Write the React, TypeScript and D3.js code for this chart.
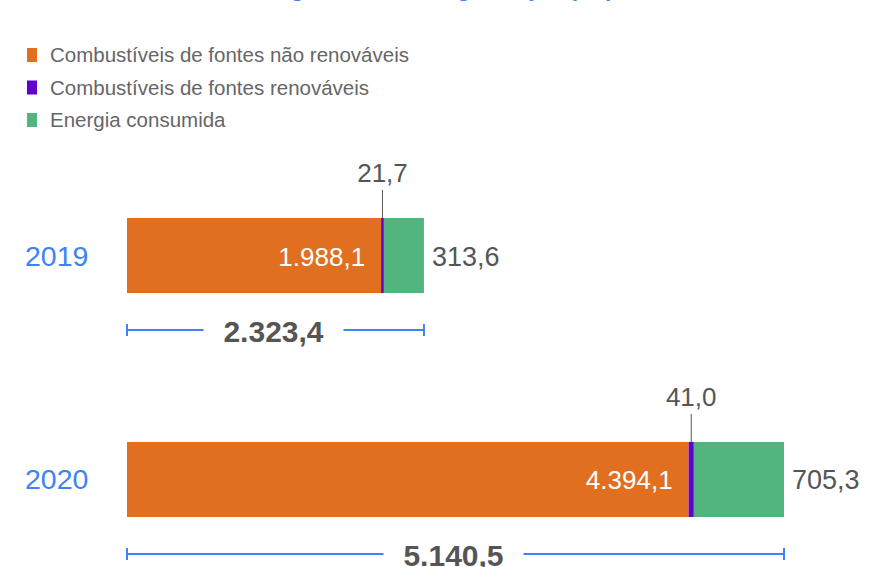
import * as d3 from 'd3';

const years = ['2019', '2020'];
const naoRenovaveis = [1988.1, 4394.1];
const renovaveis = [21.7, 41.0];
const energiaConsumida = [313.6, 705.3];
const totals = [2323.4, 5140.5];
const seriesNames = [
  'Combustíveis de fontes não renováveis',
  'Combustíveis de fontes renováveis',
  'Energia consumida',
];

const W = 869;
const H = 567;
const colors = ['#e0701f', '#6200cc', '#52b580'];
const blue = '#3d83f5';
const grey = '#555';
const font = '"Liberation Sans", Arial, sans-serif';

const fmt = (v: number) => {
  const s = d3.format(',.1f')(v);
  return s.replace(/,/g, '#').replace('.', ',').replace(/#/g, '.');
};

export default function App() {
  const x = d3.scaleLinear().domain([0, 5140.5]).range([127, 784]);
  const y = d3.scaleBand().domain(years).range([218, 517]).paddingInner(0.665).paddingOuter(0);
  const bh = y.bandwidth();

  return (
    <svg width={W} height={H} style={{ position: 'absolute', left: 0, top: 0, fontFamily: font }}>
      <text x={105} y={-4} fill={blue} fontSize={22} fontWeight="bold">
        Consumo de energia dentro da organização (GJ)
      </text>
      {seriesNames.map((n, i) => (
        <g key={n} transform={`translate(27,${48 + i * 32.5})`}>
          <rect width={10} height={14} fill={colors[i]} />
          <text x={23} y={14} fontSize={20.5} fill="#666">{n}</text>
        </g>
      ))}
      {years.map((yr, i) => {
        const y0 = y(yr) as number;
        const a = naoRenovaveis[i];
        const b = renovaveis[i];
        const c = energiaConsumida[i];
        const x0 = x(0), x1 = x(a), x2 = x(a + b), x3 = x(a + b + c);
        const cy = y0 + bh / 2;
        const my = (x1 + x2) / 2;
        const by = y0 + bh + 37;
        const mid = (x0 + x3) / 2 - 2;
        const half = 70;
        return (
          <g key={yr}>
            <text x={25} y={cy + 10} fontSize={28.5} fill={blue}>{yr}</text>
            <rect x={x0} y={y0} width={x1 - x0} height={bh} fill={colors[0]} />
            <rect x={x1} y={y0} width={x2 - x1} height={bh} fill={colors[1]} />
            <rect x={x2} y={y0} width={x3 - x2} height={bh} fill={colors[2]} />
            <text x={x1 - 16} y={cy + 10} fontSize={26} fill="#fff" textAnchor="end">{fmt(a)}</text>
            <text x={x3 + 8} y={cy + 10} fontSize={27} fill={grey}>{fmt(c)}</text>
            <line x1={my} x2={my} y1={y0 - 28} y2={y0} stroke={grey} strokeWidth={1} />
            <text x={my} y={y0 - 36} fontSize={26} fill={grey} textAnchor="middle">{fmt(b)}</text>
            <g stroke={blue} strokeWidth={2}>
              <line x1={x0} x2={mid - half} y1={by} y2={by} />
              <line x1={mid + half} x2={x3} y1={by} y2={by} />
              <line x1={x0} x2={x0} y1={by - 6} y2={by + 6} />
              <line x1={x3} x2={x3} y1={by - 6} y2={by + 6} />
            </g>
            <text x={mid} y={by + 12} fontSize={30} fontWeight="bold" fill={grey} textAnchor="middle">
              {fmt(totals[i])}
            </text>
          </g>
        );
      })}
    </svg>
  );
}
